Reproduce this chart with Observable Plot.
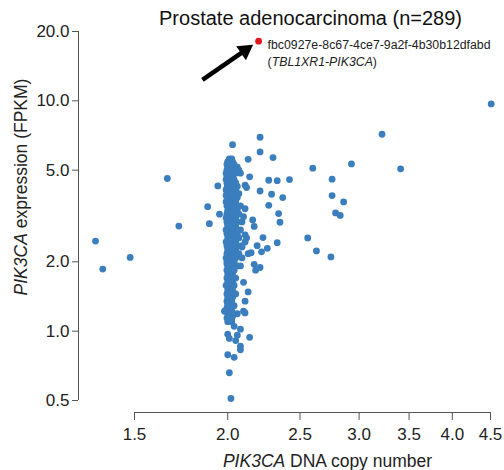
<!DOCTYPE html>
<html><head><meta charset="utf-8">
<script src="https://cdn.jsdelivr.net/npm/d3@7"></script>
<script src="https://cdn.jsdelivr.net/npm/@observablehq/plot@0.6"></script>
<style>body{margin:0;background:#fff;}</style>
</head><body><div id="chart"></div>
<script>
const titleText = "Prostate adenocarcinoma (n=289)";
const xLabelText = "PIK3CA DNA copy number";
const yLabelText = "PIK3CA expression (FPKM)";
const xTicks = [1.5, 2.0, 2.5, 3.0, 3.5, 4.0, 4.5];
const yTicks = [0.5, 1.0, 2.0, 5.0, 10.0, 20.0];
const xDomain = [1.5, 4.5];
const yDomain = [0.5, 20];

// highlighted sample
const highlightX = [2.20];
const highlightY = [18.15];
const sampleId = "fbc0927e-8c67-4ce7-9a2f-4b30b12dfabd";
const fusionName = "TBL1XR1-PIK3CA";
const arrowTail = [1.85, 12.33];
const arrowHead = [2.11, 16.56];

// samples away from the main cluster: [copy number, FPKM]
const outliers = [
  [4.51, 9.7], [3.22, 7.16], [3.41, 5.07], [2.93, 5.32], [2.60, 5.10], [2.76, 4.57],
  [2.76, 3.88], [2.86, 3.64], [2.79, 3.26], [2.83, 3.18], [2.56, 2.54], [2.63, 2.23],
  [2.75, 2.10], [2.42, 4.55], [2.33, 4.50], [2.27, 4.52], [2.30, 5.67], [2.21, 6.00],
  [2.21, 6.95], [2.03, 6.45], [2.13, 5.57], [2.14, 4.68], [2.21, 4.06], [2.29, 3.93],
  [2.37, 3.80], [2.27, 3.52], [2.34, 3.24], [2.35, 2.97], [2.23, 2.55], [2.33, 2.42],
  [2.26, 2.29], [2.22, 2.21], [2.19, 2.35], [2.15, 2.19], [2.13, 2.17], [2.09, 2.08],
  [2.17, 1.95], [2.21, 1.89], [2.18, 1.84], [2.08, 1.92], [2.10, 1.63], [2.13, 1.48],
  [1.94, 4.27], [1.88, 3.47], [1.89, 2.93], [1.72, 2.86], [1.66, 4.60], [1.33, 2.46],
  [1.36, 1.86], [1.48, 2.09], [2.11, 4.30], [2.12, 4.20], [1.95, 3.22], [2.11, 3.40],
  [2.10, 3.14], [2.16, 3.04], [2.17, 2.85], [2.09, 2.32], [2.11, 1.35], [2.10, 1.22],
  [2.11, 1.20], [1.98, 1.22], [2.04, 1.05], [2.08, 1.02], [2.00, 0.97], [2.01, 0.93],
  [2.06, 0.96], [2.05, 0.91], [2.14, 0.94], [2.08, 0.86], [2.08, 0.83], [2.00, 0.79],
  [2.04, 0.77], [2.01, 0.66], [2.02, 0.51], [2.12, 2.54], [2.11, 2.62], [2.11, 2.44]
];

// main cluster near copy number 2: [FPKM, [copy numbers...]]
const clusterRows = [
  [5.6, [2.01, 2.025]], [5.45, [2.00, 2.015, 2.03]], [5.3, [1.995, 2.01, 2.04]],
  [5.15, [2.00, 2.025, 2.06]], [5.0, [1.995, 2.015, 2.03, 2.07]], [4.85, [1.99, 2.01, 2.025, 2.05, 2.08]],
  [4.7, [1.995, 2.015, 2.03]], [4.62, [2.01, 2.025]], [4.55, [1.99, 2.00, 2.025, 2.04]],
  [4.4, [1.995, 2.01, 2.03, 2.05]], [4.32, [2.00, 2.025]], [4.25, [2.00, 2.015, 2.04, 2.06]],
  [4.18, [1.995, 2.03]], [4.1, [1.99, 2.01, 2.025, 2.05]], [4.02, [2.00, 2.015]],
  [3.95, [1.995, 2.015, 2.03, 2.07]], [3.88, [1.99, 2.025]], [3.8, [2.00, 2.01, 2.025, 2.04, 2.06]],
  [3.72, [2.01, 2.04]], [3.65, [1.99, 2.015, 2.03, 2.05]], [3.58, [2.00, 2.015]],
  [3.5, [1.995, 2.01, 2.025, 2.04, 2.08]], [3.42, [2.01, 2.03]], [3.35, [2.00, 2.015, 2.03, 2.06]],
  [3.28, [2.00, 2.05]], [3.22, [1.995, 2.01, 2.025, 2.04, 2.07]], [3.1, [1.99, 2.00, 2.015, 2.03, 2.05]],
  [3.04, [2.01, 2.025]], [2.98, [1.995, 2.01, 2.025, 2.06, 2.09]], [2.92, [2.00, 2.04]],
  [2.86, [2.00, 2.015, 2.03, 2.05]], [2.75, [1.99, 2.01, 2.025, 2.04, 2.08]], [2.65, [1.995, 2.015, 2.03, 2.06]],
  [2.54, [2.00, 2.01, 2.025, 2.04, 2.07]], [2.48, [2.01, 2.025]], [2.44, [1.99, 2.015, 2.03, 2.05]],
  [2.35, [1.995, 2.01, 2.025, 2.06, 2.09]], [2.3, [2.00, 2.03]], [2.25, [2.00, 2.015, 2.03, 2.05]],
  [2.17, [1.995, 2.01, 2.025, 2.04, 2.07]], [2.12, [2.01, 2.025]], [2.08, [1.99, 2.015, 2.03, 2.05]],
  [2.0, [1.995, 2.01, 2.025, 2.04]], [1.96, [1.995, 2.01]], [1.92, [2.00, 2.015, 2.03, 2.06]],
  [1.84, [1.995, 2.01, 2.025, 2.04]], [1.77, [2.00, 2.015, 2.03]], [1.70, [1.995, 2.01, 2.025, 2.05]],
  [1.66, [2.01, 2.025]], [1.64, [2.00, 2.015, 2.03]], [1.58, [1.99, 2.01, 2.025, 2.04]],
  [1.51, [2.00, 2.015, 2.03]], [1.48, [2.01, 2.025]], [1.45, [1.995, 2.01, 2.025, 2.05]],
  [1.40, [2.00, 2.015, 2.03]], [1.35, [1.995, 2.01, 2.025]], [1.32, [2.00, 2.015]],
  [1.29, [2.00, 2.015, 2.04]], [1.26, [1.995, 2.01]], [1.23, [1.99, 2.01, 2.025]],
  [1.19, [2.00, 2.015, 2.03, 2.06]], [1.16, [2.015, 2.03]], [1.14, [1.995, 2.01, 2.025]],
  [1.10, [2.00, 2.025]]
];

const samples = [
  ...outliers.map(([x, y]) => ({x, y})),
  ...clusterRows.flatMap(([y, xs]) => xs.map(x => ({x, y})))
];

const dotColor = "#3a7ebe";
const axisColor = "#555";
const textColor = "#222";
const font = "'Liberation Sans', Arial, Helvetica, sans-serif";

const chart = Plot.plot({
  width: 504,
  height: 470,
  marginLeft: 78,
  marginRight: 14,
  marginTop: 31,
  marginBottom: 58,
  style: {fontFamily: font, background: "#fff", color: textColor, overflow: "visible"},
  x: {type: "log", domain: xDomain, insetLeft: 56, axis: null},
  y: {type: "log", domain: yDomain, insetBottom: 12, axis: null},
  marks: [
    Plot.axisY({ticks: yTicks, tickFormat: d3.format(".1f"), tickSize: 6, tickPadding: 3, fontSize: 17, label: null, stroke: axisColor, fill: textColor}),
    Plot.axisX({ticks: xTicks, tickFormat: d3.format(".1f"), tickSize: 8, tickPadding: 7, fontSize: 17, label: null, stroke: axisColor, fill: textColor}),
    Plot.ruleX([xDomain[0]], {y1: yDomain[0], y2: yDomain[1], dx: -56, stroke: axisColor}),
    Plot.ruleY([yDomain[0]], {x1: xDomain[0], x2: xDomain[1], dy: 12, stroke: axisColor}),
    Plot.dot(samples, {x: "x", y: "y", r: 3.4, fill: dotColor, stroke: null}),
    Plot.dot(highlightX.map((x, i) => ({x, y: highlightY[i]})), {x: "x", y: "y", r: 3.4, fill: "#e8141b"}),
    Plot.link([{x1: arrowTail[0], y1: arrowTail[1], x2: arrowHead[0], y2: arrowHead[1]}], {x1: "x1", y1: "y1", x2: "x2", y2: "y2", stroke: "#000", strokeWidth: 4.5}),
    Plot.dot([{x: arrowHead[0], y: arrowHead[1]}], {x: "x", y: "y", symbol: "triangle", r: 6.3, rotate: 55, fill: "#000", stroke: null}),
    Plot.text([sampleId], {x: () => highlightX[0], y: () => highlightY[0], text: d => d, textAnchor: "start", dx: 9, dy: 4, fontSize: 12.3, fill: textColor}),
    Plot.text([fusionName], {x: () => highlightX[0], y: () => highlightY[0], text: d => "(" + d + ")", textAnchor: "start", dx: 9, dy: 21, fontSize: 12.3, fill: textColor}),
    Plot.text([titleText], {frameAnchor: "top", textAnchor: "middle", lineAnchor: "bottom", dx: 26, dy: -7, fontSize: 20, fill: "#111"}),
    Plot.text([xLabelText], {frameAnchor: "bottom", textAnchor: "middle", lineAnchor: "bottom", dx: 43, dy: 54, fontSize: 17.5, fill: textColor}),
    Plot.text([yLabelText], {frameAnchor: "left", textAnchor: "middle", lineAnchor: "bottom", rotate: -90, dx: -52, dy: -35, fontSize: 17.5, fill: textColor})
  ]
});

document.getElementById("chart").appendChild(chart);

// italicise gene names
function italicize(full, italicPart) {
  d3.select(chart).selectAll("text").filter(function() { return this.textContent === full; }).each(function() {
    const t = d3.select(this);
    const idx = full.indexOf(italicPart);
    const before = full.slice(0, idx), after = full.slice(idx + italicPart.length);
    t.text(null);
    if (before) t.append("tspan").text(before);
    t.append("tspan").attr("font-style", "italic").text(italicPart);
    if (after) t.append("tspan").text(after);
  });
}
italicize(xLabelText, "PIK3CA");
italicize(yLabelText, "PIK3CA");
italicize("(" + fusionName + ")", fusionName);
</script>
</body></html>
